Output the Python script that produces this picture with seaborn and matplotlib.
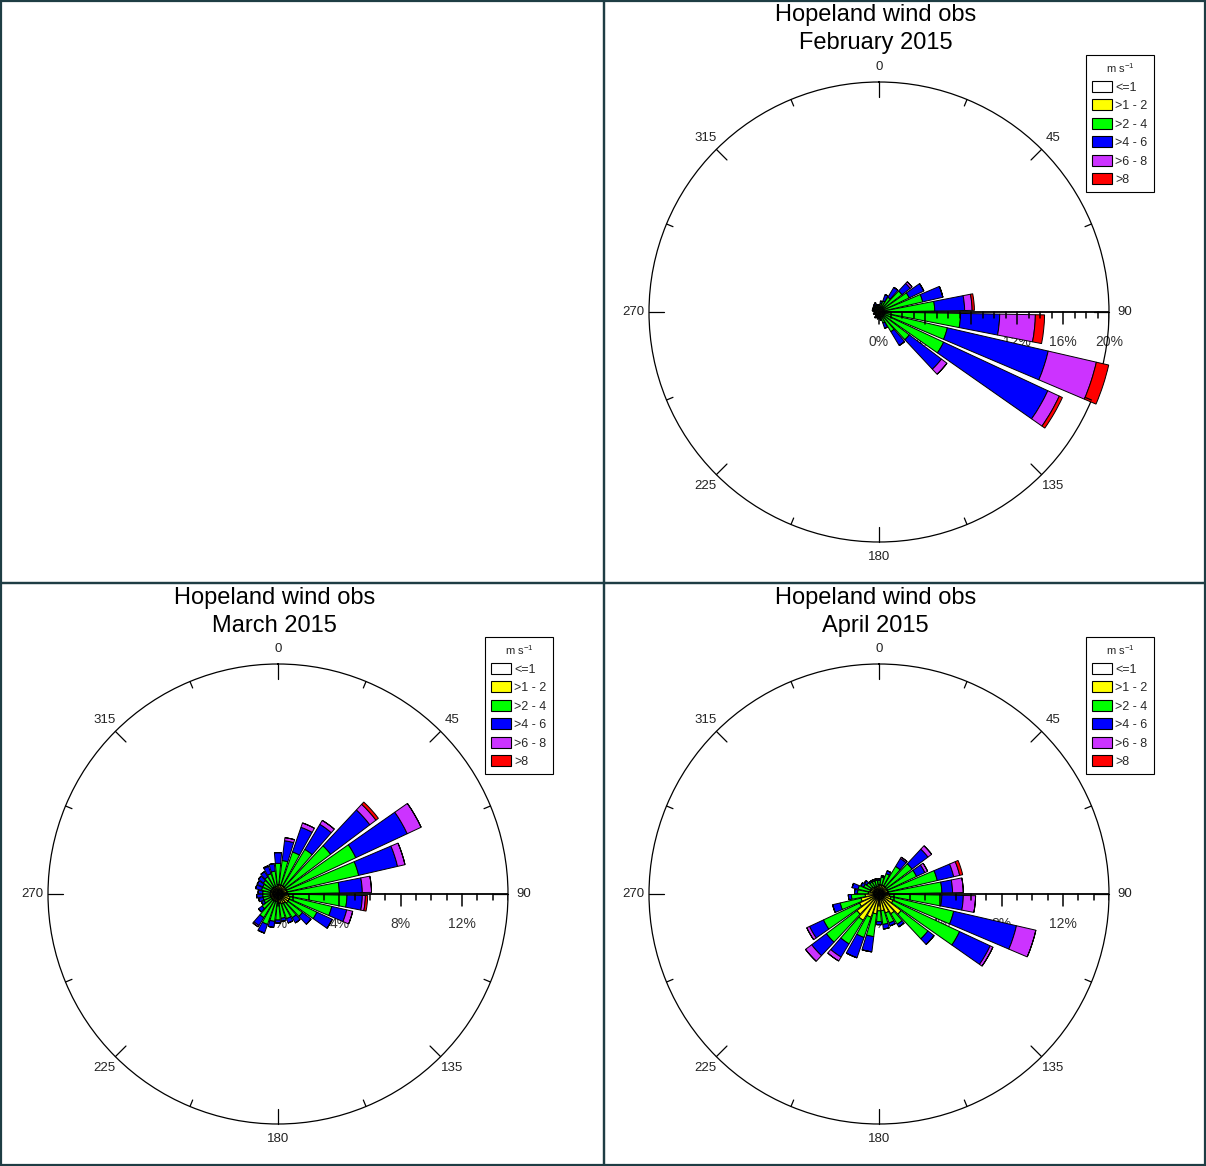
import numpy as np
import pandas as pd
import matplotlib
matplotlib.use("Agg")
import matplotlib.pyplot as plt
import matplotlib.transforms as mtransforms
from matplotlib.patches import Patch, Rectangle
import seaborn as sns

# ---------------- data ----------------
directions = list(range(0, 360, 12))          # 30 direction sectors (deg)
speed_labels = ["<=1", ">1 - 2", ">2 - 4", ">4 - 6", ">6 - 8", ">8"]
speed_colors = ["#ffffff", "#ffff00", "#00ff00", "#0000ff", "#cc33ff", "#ff0000"]
months = ["February 2015", "March 2015", "April 2015"]
rmax_list = [20, 15, 15]

# February (% of obs per sector)
feb_le1 = [.15]*30
feb_1_2 = [.2, .2, .25, .25, .25, .25, .25, .3, .3, .3, .3, .3, .25, .25, .2, .2,
           .15, .15, .15, .15, .15, .15, .15, .15, .15, .15, .2, .2, .2, .2]
feb_2_4 = [.2, .4, .6, 1.1, 2.1, 2.5, 3.5, 4.4, 6.65, 5.65, 5.75, 2.85, 1.6, .6, .3, .2,
           .2, .2, .2, .1, .1, .2, .1, .2, .2, .2, .2, .2, .3, .2]
feb_4_6 = [.1, .2, .6, 1.0, .9, 1.4, 1.8, 2.6, 3.4, 9.0, 10.0, 3.5, 1.4, .5, .1, 0,
           .1, 0, .1, 0, 0, 0, 0, 0, .1, .1, .1, .2, .2, .1]
feb_6_8 = [0, 0, 0, 0, .2, 0, 0, .65, 3.1, 4.3, 1.1, .6, 0, 0, 0, 0,
           0, 0, 0, 0, 0, 0, 0, 0, 0, 0, 0, 0, 0, 0]
feb_gt8 = [0, 0, 0, 0, 0, 0, 0, .2, .8, 1.1, .3, 0, 0, 0, 0, 0,
           0, 0, 0, 0, 0, 0, 0, 0, 0, 0, 0, 0, 0, 0]

# March
mar_le1 = [.2]*30
mar_1_2 = [.4, .4, .4, .4, .4, .4, .4, .4, .5, .6, .6, .6, .5, .5, .4, .4,
           .3, .3, .3, .3, .3, .3, .3, .3, .3, .3, .3, .3, .3, .3]
mar_2_4 = [1.4, 1.6, 2.3, 2.8, 3.7, 5.0, 4.8, 3.4, 3.8, 2.8, 2.0, 1.2, 1.1, 1.0, 1.0, 1.1,
           1.3, 1.6, 1.3, .8, .5, .5, .5, .5, .6, .6, .7, .8, .9, 1.0]
mar_4_6 = [.7, 1.3, 1.7, 1.9, 3.2, 3.7, 2.6, 1.5, 1.0, 1.0, 1.1, .7, .4, .3, .2, .2,
           .4, .6, .6, .3, .2, .3, .4, .3, .4, .4, .4, .4, .5, .5]
mar_6_8 = [0, .2, .3, .3, .5, 1.0, .5, .6, .2, .4, 0, 0, 0, 0, 0, 0,
           0, 0, .1, 0, 0, 0, 0, 0, 0, 0, 0, 0, .05, 0]
mar_gt8 = [0, 0, 0, 0, .2, 0, 0, 0, .15, 0, 0, 0, 0, 0, 0, 0,
           0, 0, 0, 0, 0, 0, 0, 0, 0, 0, 0, 0, 0, 0]

# April
apr_le1 = [.2]*30
apr_1_2 = [.4, .4, .4, .4, .4, .4, .4, .4, .5, .6, .8, 1.6, 1.3, 1.1, .9, .9,
           1.1, 1.4, 1.8, 1.6, 1.2, 1.0, .7, .5, .4, .4, .4, .3, .3, .3]
apr_2_4 = [.3, .5, .8, 1.5, 2.1, 2.1, 3.3, 3.5, 3.4, 4.2, 4.8, 2.2, .8, .7, .9, .7,
           1.5, 1.4, 1.8, 2.5, 2.6, 1.4, .9, .7, .8, .5, .4, .4, .4, .4]
apr_4_6 = [.1, .1, .2, .6, 1.3, .6, 1.1, .7, 1.4, 4.2, 2.2, .5, .2, .2, .3, .2,
           1.0, 1.4, 1.0, 1.2, 1.0, .5, .2, .2, .4, .2, .2, .1, .1, .1]
apr_6_8 = [0, 0, 0, .1, .3, .2, .4, .7, .8, 1.3, .2, 0, 0, 0, 0, 0,
           0, 0, .3, .5, .2, 0, 0, 0, 0, 0, 0, 0, 0, 0]
apr_gt8 = [0, 0, 0, 0, 0, 0, .2, 0, 0, 0, 0, 0, 0, 0, 0, 0,
           0, 0, 0, 0, 0, 0, 0, 0, 0, 0, 0, 0, 0, 0]

month_data = {
    months[0]: [feb_le1, feb_1_2, feb_2_4, feb_4_6, feb_6_8, feb_gt8],
    months[1]: [mar_le1, mar_1_2, mar_2_4, mar_4_6, mar_6_8, mar_gt8],
    months[2]: [apr_le1, apr_1_2, apr_2_4, apr_4_6, apr_6_8, apr_gt8],
}

rows = []
for m, segs in month_data.items():
    for lab, vals in zip(speed_labels, segs):
        for d, v in zip(directions, vals):
            rows.append({"month": m, "dir": d, "speed": lab, "freq": v})
df = pd.DataFrame(rows)

# ---------------- style ----------------
sns.set_theme(style="white")
plt.rcParams['font.family'] = ['Liberation Sans', 'DejaVu Sans']
palette = dict(zip(speed_labels, sns.color_palette(speed_colors)))

W, H = 1206, 1166
fig = plt.figure(figsize=(W / 100, H / 100), dpi=100)
fig.patch.set_facecolor("white")

RPX = 230  # circle radius in px
centers = [(879, 312), (278, 894), (879, 894)]
title_base = [(21, 49), (604, 632), (604, 632)]
legend_pos = [(1086, 55), (485, 637), (1086, 637)]

# panel borders
border_c = "#1e3d44"
for (x0, y0, x1, y1) in [(1, 1, 604, 583), (604, 1, 1205, 583), (1, 583, 604, 1165), (604, 583, 1205, 1165)]:
    fig.add_artist(Rectangle((x0 / W, 1 - y1 / H), (x1 - x0) / W, (y1 - y0) / H,
                             transform=fig.transFigure, fill=False,
                             edgecolor=border_c, linewidth=1.6))

for k, m in enumerate(months):
    cx, cy = centers[k]
    R = rmax_list[k]
    rect = [(cx - RPX) / W, 1 - (cy + RPX) / H, 2 * RPX / W, 2 * RPX / H]
    ax = fig.add_axes(rect, projection="polar", zorder=1)
    ax.set_theta_zero_location("N")
    ax.set_theta_direction(-1)
    ax.set_ylim(0, R)
    ax.grid(False)
    ax.set_xticks([])
    ax.set_yticks([])
    ax.patch.set_alpha(0)
    ax.spines["polar"].set_color("black")
    ax.spines["polar"].set_linewidth(0.9)

    sub = df[df.month == m]
    bottom = np.zeros(len(directions))
    theta = np.deg2rad(directions)
    for lab in speed_labels:
        vals = sub[sub.speed == lab].sort_values("dir")["freq"].to_numpy()
        bars = ax.bar(theta, vals, width=np.deg2rad(10), bottom=bottom,
                      color=palette[lab], edgecolor="black", linewidth=0.7, zorder=3)
        for b in bars:
            b.set_clip_on(False)
        bottom = bottom + vals

    # compass ticks and labels
    for j in range(16):
        a = np.deg2rad(j * 22.5)
        L = 15 if j % 2 == 0 else 7
        ax.plot([a, a], [R, R * (1 - L / RPX)], color="black", lw=0.9, clip_on=False, zorder=4)
    for j in range(8):
        a = np.deg2rad(j * 45)
        ax.text(a, R * (1 + 15.5 / RPX), str(j * 45), ha="center", va="center",
                fontsize=9.5, color="#222222", clip_on=False, zorder=1)

    # radial percent labels (below bars)
    off = mtransforms.offset_copy(ax.transData, fig=fig, x=0, y=-30, units="dots")
    for v in range(0, R + 1, 4):
        ax.text(np.pi / 2, v, f"{v}%", transform=off, ha="center", va="center",
                fontsize=10, color="#333333", zorder=1)

    # overlay cartesian axes for radial axis line and ticks (above bars)
    ax2 = fig.add_axes(rect, zorder=2)
    ax2.set_xlim(-R, R)
    ax2.set_ylim(-R, R)
    ax2.axis("off")
    ax2.patch.set_alpha(0)
    ax2.plot([0, R], [0, 0], color="black", lw=1.3)
    for v in range(0, R + 1):
        L = 12 if v % 4 == 0 else 6
        ax2.plot([v, v], [0, -L / RPX * R], color="black", lw=1.1)

    # titles
    b1, b2 = title_base[k]
    fig.text((cx - 3.5) / W, 1 - b1 / H, "Hopeland wind obs", ha="center", va="baseline",
             fontsize=17, color="black")
    fig.text((cx - 3.5) / W, 1 - b2 / H, m, ha="center", va="baseline",
             fontsize=17, color="black")

    # legend
    lx, ly = legend_pos[k]
    handles = [Patch(facecolor=palette[l], edgecolor="black", linewidth=0.8) for l in speed_labels]
    leg = fig.legend(handles, speed_labels, loc="upper left",
                     bbox_to_anchor=(lx / W, 1 - ly / H), bbox_transform=fig.transFigure,
                     title=r"m s$^{\mathregular{-1}}$", fontsize=9, title_fontsize=8,
                     frameon=True, fancybox=False, edgecolor="black", framealpha=1,
                     borderpad=0.5, labelspacing=0.45, handlelength=1.6, handleheight=1.0,
                     handletextpad=0.25, borderaxespad=0)
    leg.get_frame().set_linewidth(0.8)

fig.savefig("out.png", dpi=100)
